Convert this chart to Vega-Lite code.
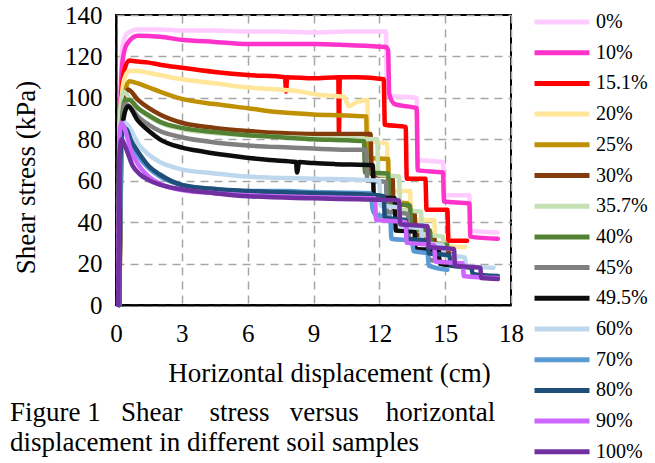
{
"$schema": "https://vega.github.io/schema/vega-lite/v6.json",
"width": 395, "height": 290,
"autosize": {"type": "none"},
"padding": {"left": 116, "top": 15, "right": 144, "bottom": 158},
"background": "white",
"config": {"view": {"stroke": "#000", "strokeWidth": 2}, "font": "Liberation Serif"},
"title": {"text": ["Figure 1 \u00a0\u00a0Shear \u00a0\u00a0\u00a0stress \u00a0\u00a0versus \u00a0\u00a0\u00a0horizontal", "displacement in different soil samples"], "orient": "bottom", "anchor": "start", "frame": "group", "dx": -106, "offset": -67, "font": "Liberation Serif", "fontSize": 27, "fontWeight": "normal", "color": "#000", "lineHeight": 30, "align": "left"},
"data": {"values": [
{"s":"0%","x":0.15,"y":0},{"s":"0%","x":0.2,"y":100},{"s":"0%","x":0.3,"y":125},{"s":"0%","x":0.5,"y":131},{"s":"0%","x":1,"y":133},{"s":"0%","x":2,"y":133},{"s":"0%","x":3,"y":132.5},{"s":"0%","x":4.5,"y":132.5},{"s":"0%","x":6,"y":132},{"s":"0%","x":7.5,"y":132},{"s":"0%","x":9,"y":131.5},{"s":"0%","x":10.5,"y":132},{"s":"0%","x":12.3,"y":132},{"s":"0%","x":12.35,"y":101},{"s":"0%","x":13.7,"y":100},{"s":"0%","x":13.75,"y":70},{"s":"0%","x":14.9,"y":69},{"s":"0%","x":14.95,"y":53},{"s":"0%","x":16.1,"y":53},{"s":"0%","x":16.15,"y":36},{"s":"0%","x":17.4,"y":35},
{"s":"10%","x":0.15,"y":0},{"s":"10%","x":0.2,"y":95},{"s":"10%","x":0.3,"y":118},{"s":"10%","x":0.5,"y":126},{"s":"10%","x":1,"y":130},{"s":"10%","x":2,"y":129.5},{"s":"10%","x":3,"y":128},{"s":"10%","x":4.5,"y":127},{"s":"10%","x":6,"y":126},{"s":"10%","x":7.5,"y":126},{"s":"10%","x":9,"y":126},{"s":"10%","x":10.5,"y":125.5},{"s":"10%","x":12.3,"y":124.5},{"s":"10%","x":12.4,"y":123},{"s":"10%","x":12.45,"y":102},{"s":"10%","x":12.7,"y":97},{"s":"10%","x":13.7,"y":95},{"s":"10%","x":13.75,"y":65},{"s":"10%","x":14.9,"y":64},{"s":"10%","x":14.95,"y":50},{"s":"10%","x":16.1,"y":49},{"s":"10%","x":16.15,"y":33},{"s":"10%","x":17.4,"y":32},
{"s":"15.1%","x":0.15,"y":0},{"s":"15.1%","x":0.2,"y":90},{"s":"15.1%","x":0.35,"y":112},{"s":"15.1%","x":0.6,"y":118},{"s":"15.1%","x":1,"y":117.5},{"s":"15.1%","x":1.5,"y":117},{"s":"15.1%","x":2,"y":116},{"s":"15.1%","x":3,"y":114.5},{"s":"15.1%","x":4.5,"y":112.5},{"s":"15.1%","x":6,"y":111},{"s":"15.1%","x":7.7,"y":110},{"s":"15.1%","x":7.75,"y":103},{"s":"15.1%","x":7.8,"y":110},{"s":"15.1%","x":9,"y":109.5},{"s":"15.1%","x":10.13,"y":110},{"s":"15.1%","x":10.16,"y":83},{"s":"15.1%","x":10.2,"y":110},{"s":"15.1%","x":11,"y":110},{"s":"15.1%","x":12.2,"y":109},{"s":"15.1%","x":12.25,"y":87},{"s":"15.1%","x":13.2,"y":86},{"s":"15.1%","x":13.25,"y":61},{"s":"15.1%","x":14.1,"y":61},{"s":"15.1%","x":14.15,"y":46},{"s":"15.1%","x":15.1,"y":46},{"s":"15.1%","x":15.15,"y":31},{"s":"15.1%","x":16,"y":31},
{"s":"20%","x":0.15,"y":0},{"s":"20%","x":0.2,"y":85},{"s":"20%","x":0.35,"y":108},{"s":"20%","x":0.6,"y":113},{"s":"20%","x":1,"y":113},{"s":"20%","x":1.5,"y":112},{"s":"20%","x":2,"y":111},{"s":"20%","x":3,"y":109},{"s":"20%","x":4.5,"y":107},{"s":"20%","x":6,"y":105},{"s":"20%","x":8.4,"y":103},{"s":"20%","x":9.2,"y":101.5},{"s":"20%","x":10.4,"y":100.5},{"s":"20%","x":10.6,"y":96},{"s":"20%","x":11,"y":98},{"s":"20%","x":11.45,"y":99},{"s":"20%","x":11.5,"y":79},{"s":"20%","x":12.35,"y":78},{"s":"20%","x":12.4,"y":55},{"s":"20%","x":13.4,"y":55},{"s":"20%","x":13.45,"y":41},{"s":"20%","x":14.5,"y":41},{"s":"20%","x":14.55,"y":29},{"s":"20%","x":15.9,"y":28},
{"s":"25%","x":0.15,"y":0},{"s":"25%","x":0.25,"y":80},{"s":"25%","x":0.4,"y":102},{"s":"25%","x":0.6,"y":108},{"s":"25%","x":1,"y":107},{"s":"25%","x":1.5,"y":105},{"s":"25%","x":2,"y":103},{"s":"25%","x":3,"y":99.5},{"s":"25%","x":4.5,"y":97},{"s":"25%","x":6,"y":95},{"s":"25%","x":7.5,"y":93},{"s":"25%","x":9,"y":92},{"s":"25%","x":10.5,"y":91.5},{"s":"25%","x":11.4,"y":91},{"s":"25%","x":11.45,"y":71},{"s":"25%","x":12.4,"y":70.5},{"s":"25%","x":12.45,"y":50},{"s":"25%","x":13.3,"y":49},{"s":"25%","x":13.35,"y":37},{"s":"25%","x":14.3,"y":36},{"s":"25%","x":14.35,"y":30},{"s":"25%","x":15,"y":29.5},
{"s":"30%","x":0.15,"y":0},{"s":"30%","x":0.25,"y":80},{"s":"30%","x":0.4,"y":100},{"s":"30%","x":0.55,"y":104},{"s":"30%","x":1,"y":99},{"s":"30%","x":1.5,"y":95},{"s":"30%","x":2,"y":92},{"s":"30%","x":3,"y":88},{"s":"30%","x":4.5,"y":85.5},{"s":"30%","x":6,"y":84},{"s":"30%","x":7.5,"y":83},{"s":"30%","x":9,"y":82.5},{"s":"30%","x":10.5,"y":82.5},{"s":"30%","x":11.6,"y":82.5},{"s":"30%","x":11.65,"y":63},{"s":"30%","x":12.6,"y":62},{"s":"30%","x":12.65,"y":46},{"s":"30%","x":13.6,"y":45},{"s":"30%","x":13.65,"y":34},{"s":"30%","x":14.5,"y":33},{"s":"30%","x":14.55,"y":26},{"s":"30%","x":15.2,"y":25},
{"s":"35.7%","x":0.1,"y":0},{"s":"35.7%","x":0.15,"y":85},{"s":"35.7%","x":0.25,"y":100},{"s":"35.7%","x":0.35,"y":103},{"s":"35.7%","x":0.6,"y":100},{"s":"35.7%","x":1,"y":95},{"s":"35.7%","x":1.5,"y":91},{"s":"35.7%","x":2,"y":88},{"s":"35.7%","x":3,"y":85},{"s":"35.7%","x":4.5,"y":83},{"s":"35.7%","x":6,"y":82},{"s":"35.7%","x":9,"y":80.5},{"s":"35.7%","x":11.9,"y":80},{"s":"35.7%","x":11.95,"y":63},{"s":"35.7%","x":12.9,"y":62},{"s":"35.7%","x":12.95,"y":46},{"s":"35.7%","x":13.9,"y":45},{"s":"35.7%","x":13.95,"y":34},{"s":"35.7%","x":14.9,"y":33},{"s":"35.7%","x":14.95,"y":24},{"s":"35.7%","x":15.6,"y":23},
{"s":"40%","x":0.15,"y":0},{"s":"40%","x":0.25,"y":85},{"s":"40%","x":0.4,"y":99},{"s":"40%","x":0.6,"y":99},{"s":"40%","x":1,"y":95},{"s":"40%","x":1.5,"y":91.5},{"s":"40%","x":2,"y":88.5},{"s":"40%","x":3,"y":85.5},{"s":"40%","x":4.5,"y":83.5},{"s":"40%","x":6,"y":82},{"s":"40%","x":7.5,"y":81},{"s":"40%","x":9,"y":80},{"s":"40%","x":10.5,"y":79.5},{"s":"40%","x":11.3,"y":79},{"s":"40%","x":11.35,"y":64},{"s":"40%","x":12.4,"y":63.5},{"s":"40%","x":12.45,"y":49},{"s":"40%","x":13.4,"y":48},{"s":"40%","x":13.45,"y":37},{"s":"40%","x":14.3,"y":36},{"s":"40%","x":14.35,"y":30},{"s":"40%","x":15.1,"y":29},
{"s":"45%","x":0.15,"y":0},{"s":"45%","x":0.25,"y":82},{"s":"45%","x":0.4,"y":97},{"s":"45%","x":0.6,"y":96},{"s":"45%","x":1,"y":91},{"s":"45%","x":1.5,"y":87},{"s":"45%","x":2,"y":84},{"s":"45%","x":3,"y":81},{"s":"45%","x":4.5,"y":78.5},{"s":"45%","x":6,"y":77},{"s":"45%","x":7.9,"y":76},{"s":"45%","x":9,"y":75.5},{"s":"45%","x":10.5,"y":75},{"s":"45%","x":11.4,"y":75},{"s":"45%","x":11.45,"y":60},{"s":"45%","x":12.3,"y":59.5},{"s":"45%","x":12.35,"y":45},{"s":"45%","x":13.3,"y":44},{"s":"45%","x":13.35,"y":32},{"s":"45%","x":14.2,"y":31},{"s":"45%","x":14.25,"y":22},{"s":"45%","x":14.8,"y":21},
{"s":"49.5%","x":0.15,"y":0},{"s":"49.5%","x":0.25,"y":80},{"s":"49.5%","x":0.4,"y":93},{"s":"49.5%","x":0.55,"y":96},{"s":"49.5%","x":1,"y":89},{"s":"49.5%","x":1.5,"y":84},{"s":"49.5%","x":2,"y":80},{"s":"49.5%","x":3,"y":76},{"s":"49.5%","x":4,"y":74},{"s":"49.5%","x":5.7,"y":71.5},{"s":"49.5%","x":7,"y":70},{"s":"49.5%","x":8.2,"y":69},{"s":"49.5%","x":8.25,"y":64},{"s":"49.5%","x":8.35,"y":69},{"s":"49.5%","x":9,"y":68.5},{"s":"49.5%","x":10,"y":68},{"s":"49.5%","x":11.7,"y":67.5},{"s":"49.5%","x":11.75,"y":52},{"s":"49.5%","x":12.7,"y":51.5},{"s":"49.5%","x":12.75,"y":36},{"s":"49.5%","x":13.6,"y":35.5},{"s":"49.5%","x":13.65,"y":27},{"s":"49.5%","x":14.7,"y":26.5},{"s":"49.5%","x":14.75,"y":20},{"s":"49.5%","x":15.4,"y":19},
{"s":"60%","x":0.15,"y":0},{"s":"60%","x":0.25,"y":75},{"s":"60%","x":0.4,"y":88},{"s":"60%","x":0.6,"y":86},{"s":"60%","x":1,"y":78},{"s":"60%","x":1.5,"y":72.5},{"s":"60%","x":2,"y":69},{"s":"60%","x":3,"y":65.5},{"s":"60%","x":4.5,"y":63.5},{"s":"60%","x":6,"y":62},{"s":"60%","x":9,"y":61},{"s":"60%","x":11,"y":60.5},{"s":"60%","x":12,"y":60},{"s":"60%","x":12.05,"y":48},{"s":"60%","x":12.9,"y":47},{"s":"60%","x":12.95,"y":38},{"s":"60%","x":13.9,"y":37},{"s":"60%","x":13.95,"y":30},{"s":"60%","x":14.9,"y":29},{"s":"60%","x":14.95,"y":24},{"s":"60%","x":15.9,"y":23},{"s":"60%","x":15.95,"y":19},{"s":"60%","x":17.2,"y":18},
{"s":"70%","x":0.15,"y":0},{"s":"70%","x":0.2,"y":70},{"s":"70%","x":0.3,"y":86},{"s":"70%","x":0.45,"y":85},{"s":"70%","x":0.7,"y":78},{"s":"70%","x":1,"y":72},{"s":"70%","x":1.5,"y":66},{"s":"70%","x":2,"y":62},{"s":"70%","x":3,"y":58},{"s":"70%","x":4.5,"y":56},{"s":"70%","x":6,"y":55},{"s":"70%","x":7.8,"y":55},{"s":"70%","x":9,"y":54.5},{"s":"70%","x":10.5,"y":54.2},{"s":"70%","x":11.6,"y":54},{"s":"70%","x":11.7,"y":46},{"s":"70%","x":11.85,"y":43.5},{"s":"70%","x":12.5,"y":42.5},{"s":"70%","x":12.55,"y":32},{"s":"70%","x":13.5,"y":31},{"s":"70%","x":13.55,"y":26},{"s":"70%","x":14.2,"y":25},{"s":"70%","x":14.25,"y":19},{"s":"70%","x":15.1,"y":17},
{"s":"80%","x":0.15,"y":0},{"s":"80%","x":0.2,"y":70},{"s":"80%","x":0.3,"y":84},{"s":"80%","x":0.45,"y":85},{"s":"80%","x":0.7,"y":79},{"s":"80%","x":1,"y":74},{"s":"80%","x":1.5,"y":67},{"s":"80%","x":2,"y":63},{"s":"80%","x":3,"y":58},{"s":"80%","x":4.5,"y":56},{"s":"80%","x":6,"y":55},{"s":"80%","x":9,"y":54},{"s":"80%","x":11,"y":53.5},{"s":"80%","x":12.2,"y":52.5},{"s":"80%","x":12.25,"y":42},{"s":"80%","x":13.2,"y":41},{"s":"80%","x":13.25,"y":32},{"s":"80%","x":14.2,"y":31},{"s":"80%","x":14.25,"y":25},{"s":"80%","x":15.2,"y":24},{"s":"80%","x":15.25,"y":19},{"s":"80%","x":16.2,"y":18},{"s":"80%","x":16.25,"y":15},{"s":"80%","x":17.4,"y":14},
{"s":"90%","x":0.1,"y":0},{"s":"90%","x":0.15,"y":80},{"s":"90%","x":0.25,"y":88},{"s":"90%","x":0.4,"y":85},{"s":"90%","x":0.7,"y":74},{"s":"90%","x":1,"y":68},{"s":"90%","x":1.5,"y":62},{"s":"90%","x":2,"y":58.5},{"s":"90%","x":3,"y":55.5},{"s":"90%","x":4.5,"y":54},{"s":"90%","x":6,"y":53},{"s":"90%","x":9,"y":52},{"s":"90%","x":11.8,"y":51.5},{"s":"90%","x":11.85,"y":41},{"s":"90%","x":13.2,"y":40},{"s":"90%","x":13.25,"y":30},{"s":"90%","x":14.5,"y":29},{"s":"90%","x":14.55,"y":21},{"s":"90%","x":15.8,"y":20},{"s":"90%","x":15.85,"y":14},{"s":"90%","x":17.4,"y":13},
{"s":"100%","x":0.1,"y":0},{"s":"100%","x":0.15,"y":70},{"s":"100%","x":0.25,"y":80},{"s":"100%","x":0.4,"y":77},{"s":"100%","x":0.77,"y":67},{"s":"100%","x":1.1,"y":63},{"s":"100%","x":1.55,"y":60},{"s":"100%","x":2.2,"y":57.5},{"s":"100%","x":2.9,"y":56},{"s":"100%","x":4.5,"y":54},{"s":"100%","x":6,"y":52.5},{"s":"100%","x":9,"y":51.5},{"s":"100%","x":11,"y":51},{"s":"100%","x":12.9,"y":50.5},{"s":"100%","x":12.95,"y":39},{"s":"100%","x":14.2,"y":38},{"s":"100%","x":14.25,"y":28},{"s":"100%","x":15.4,"y":27},{"s":"100%","x":15.45,"y":19},{"s":"100%","x":16.6,"y":18},{"s":"100%","x":16.65,"y":13},{"s":"100%","x":17.4,"y":12.5}
]},
"mark": {"type": "line", "strokeWidth": 4.5, "strokeJoin": "round", "strokeCap": "round", "interpolate": "monotone"},
"encoding": {
"x": {"field": "x", "type": "quantitative", "scale": {"domain": [0, 18], "nice": false},
 "axis": {"values": [0,3,6,9,12,15,18], "title": "Horizontal displacement (cm)", "grid": true, "gridDash": [8,6], "gridColor": "#A6A6A6", "gridWidth": 1.5, "ticks": false, "domainColor": "#000", "domainWidth": 2, "labelFont": "Liberation Serif", "labelFontSize": 25, "labelColor": "#000", "labelPadding": 16, "labelFlush": false, "titleFont": "Liberation Serif", "titleFontSize": 27, "titleFontWeight": "normal", "titleColor": "#000", "titleX": 213, "titleY": 68, "titleBaseline": "middle", "titleAlign": "center"}},
"y": {"field": "y", "type": "quantitative", "scale": {"domain": [0, 140], "nice": false},
 "axis": {"values": [0,20,40,60,80,100,120,140], "title": "Shear stress (kPa)", "grid": true, "gridDash": [8,6], "gridColor": "#A6A6A6", "gridWidth": 1.5, "ticks": false, "domainColor": "#000", "domainWidth": 2, "labelFont": "Liberation Serif", "labelFontSize": 25, "labelColor": "#000", "labelPadding": 14, "labelFlush": false, "titleFont": "Liberation Serif", "titleFontSize": 27, "titleFontWeight": "normal", "titleColor": "#000", "titleX": -90, "titleY": 162, "titleAngle": 270, "titleBaseline": "middle", "titleAlign": "center"}},
"color": {"field": "s", "type": "nominal",
 "scale": {"domain": ["0%","10%","15.1%","20%","25%","30%","35.7%","40%","45%","49.5%","60%","70%","80%","90%","100%"],
  "range": ["#FFCCFF","#FF33CC","#FF0000","#FFE699","#BF9000","#843C0C","#C5E0B4","#548235","#808080","#0D0D0D","#BDD7EE","#5B9BD5","#1F4E79","#CC66FF","#7030A0"]},
 "legend": {"title": null, "orient": "none", "legendX": 416, "legendY": -8, "padding": 0, "symbolType": "stroke", "symbolSize": 3025, "symbolStrokeWidth": 5, "clipHeight": 30, "rowPadding": 0.7, "labelFont": "Liberation Serif", "labelFontSize": 20, "labelColor": "#000", "labelOffset": 4, "labelLimit": 200}}
}
}
